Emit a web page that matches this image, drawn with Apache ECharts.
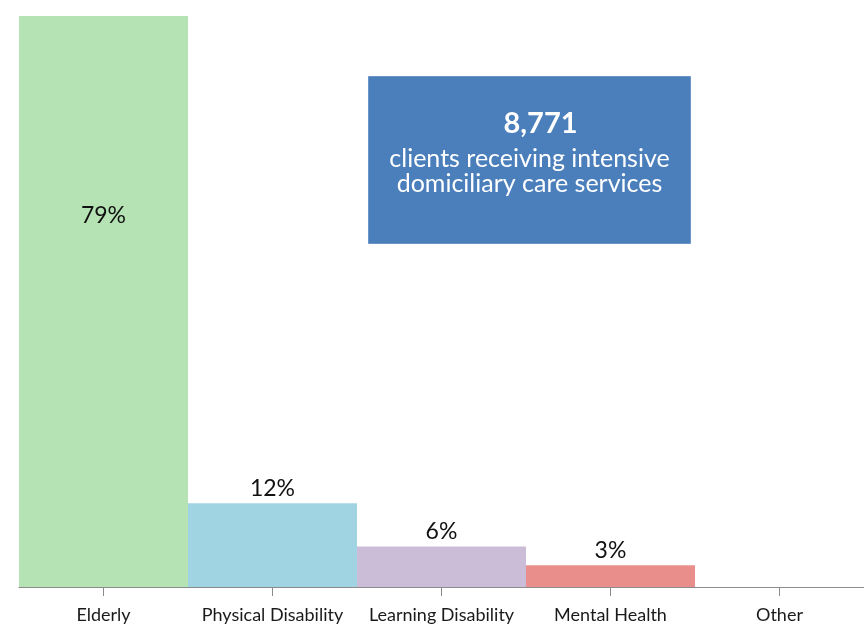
<!DOCTYPE html>
<html><head><meta charset="utf-8">
<script src="https://cdn.jsdelivr.net/npm/echarts@6/dist/echarts.min.js"></script>
<style>html,body{margin:0;padding:0;background:#fff}#c{width:864px;height:624px}</style>
</head><body><div id="c"></div>
<script>
const categories = ["Elderly", "Physical Disability", "Learning Disability", "Mental Health", "Other"];
const values = [79.0, 11.6, 5.6, 3.0, 0];
const labels = ["79%", "12%", "6%", "3%", ""];
const colors = ["#b5e3b4", "#a1d4e2", "#cbbdd8", "#ea8e8c", "#cccccc"];
const boxNumber = "8,771";
const boxLines = ["clients receiving intensive", "domiciliary care services"];

const FONT = "Lato, 'Open Sans', sans-serif";
const chart = echarts.init(document.getElementById('c'));
chart.setOption({
  animation: false,
  grid: { left: 19, right: -2, top: 16, bottom: 36 },
  xAxis: {
    type: 'category', data: categories,
    axisLine: { lineStyle: { color: '#8c8c8c', width: 1 } },
    axisTick: { show: true, alignWithLabel: true, length: 9, lineStyle: { color: '#8c8c8c' } },
    axisLabel: { color: '#1a1a1a', fontSize: 18, fontFamily: FONT, margin: 19, interval: 0 }
  },
  yAxis: { type: 'value', min: 0, max: 'dataMax', show: false, splitLine: { show: false } },
  series: [{
    type: 'bar', barCategoryGap: 0,
    data: values.map((v, i) => ({
      value: v,
      itemStyle: { color: colors[i] },
      label: i === 0
        ? { show: true, position: 'insideTop', distance: 188, formatter: labels[i], fontSize: 23, color: '#111', fontFamily: FONT }
        : { show: labels[i] !== '', position: 'top', distance: 3, formatter: labels[i], fontSize: 23, color: '#111', fontFamily: FONT }
    }))
  }],
  graphic: [{
    type: 'group', left: 368, top: 76,
    children: [
      { type: 'rect', shape: { x: 0, y: 0, width: 322, height: 167 }, style: { fill: '#4b7fbc', stroke: '#6c95c9', lineWidth: 1 } },
      { type: 'text', x: 172, y: 47, style: { text: boxNumber, fill: '#fff', font: "bold 29px " + FONT, textAlign: 'center', textVerticalAlign: 'middle' } },
      { type: 'text', x: 161, y: 82, style: { text: boxLines[0], fill: '#fff', font: "25px " + FONT, textAlign: 'center', textVerticalAlign: 'middle' } },
      { type: 'text', x: 161, y: 107, style: { text: boxLines[1], fill: '#fff', font: "25px " + FONT, textAlign: 'center', textVerticalAlign: 'middle' } }
    ]
  }]
});
</script></body></html>
